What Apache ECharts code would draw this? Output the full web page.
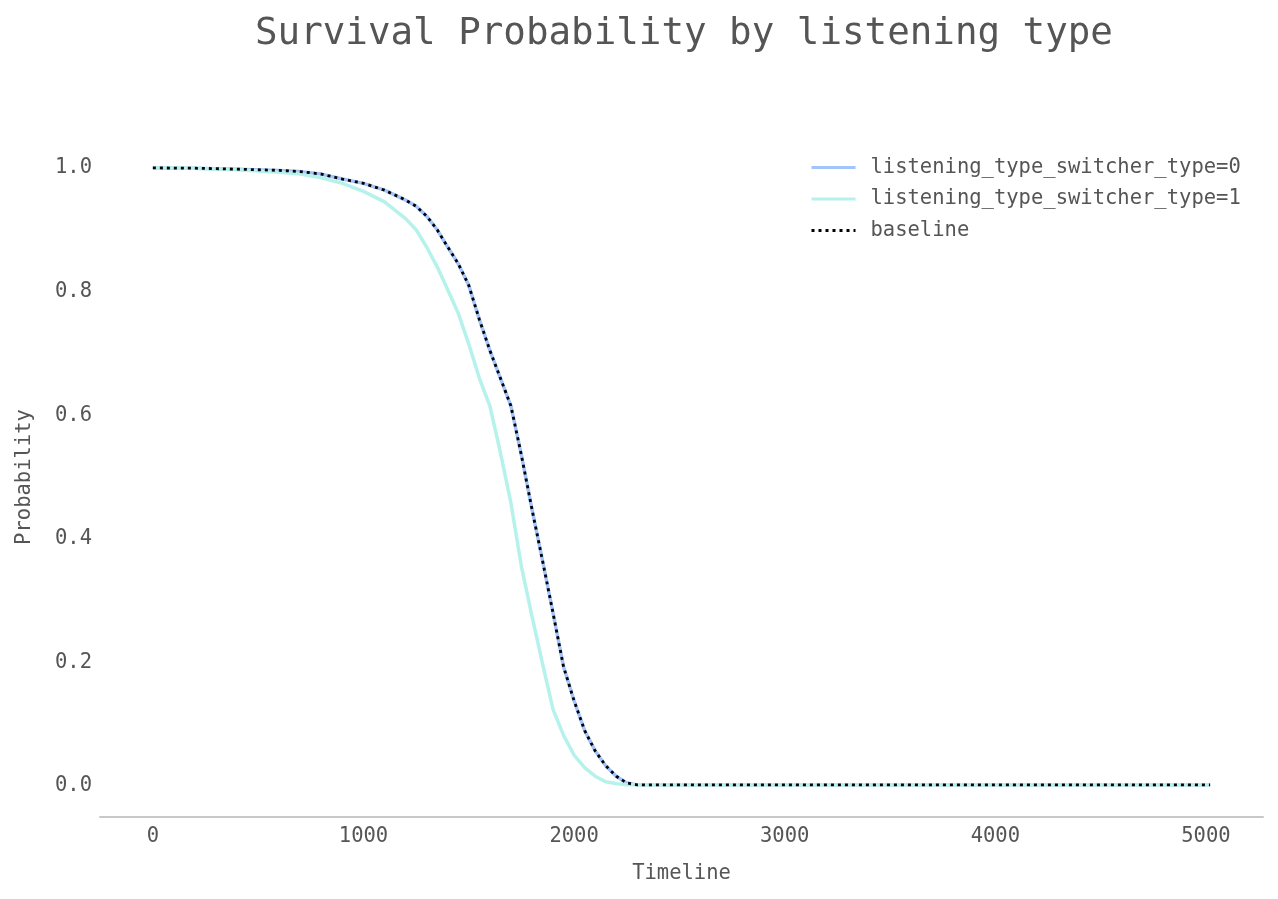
<!DOCTYPE html>
<html>
<head>
<meta charset="utf-8">
<script src="https://cdn.jsdelivr.net/npm/echarts@6/dist/echarts.min.js"></script>
<style>
  html, body { margin: 0; padding: 0; background: #fff; }
  #chart { width: 1278px; height: 899px; }
</style>
</head>
<body>
<div id="chart"></div>
<script>
const timeline = [0, 200, 400, 600, 700, 800, 900, 1000, 1100, 1200, 1250, 1300, 1350, 1400, 1450,
  1500, 1550, 1600, 1650, 1700, 1750, 1800, 1850, 1900, 1950, 2000, 2050, 2100, 2150, 2200, 2250,
  2300, 2400, 3000, 4000, 5020];

const baseline = [1.0, 0.9995, 0.998, 0.996, 0.994, 0.990, 0.982, 0.975, 0.964, 0.948, 0.938, 0.922, 0.900, 0.872, 0.845,
  0.810, 0.755, 0.705, 0.660, 0.615, 0.535, 0.448, 0.365, 0.280, 0.193, 0.138, 0.090, 0.057, 0.033, 0.016, 0.005,
  0.002, 0.002, 0.002, 0.002, 0.002];

const type0 = baseline.slice();

const type1 = [1.0, 0.9995, 0.997, 0.993, 0.990, 0.984, 0.975, 0.962, 0.945, 0.918, 0.900, 0.872, 0.840, 0.803, 0.765,
  0.715, 0.660, 0.615, 0.540, 0.458, 0.355, 0.275, 0.198, 0.124, 0.082, 0.050, 0.030, 0.016, 0.007, 0.004, 0.002,
  0.002, 0.002, 0.002, 0.002, 0.002];

const seriesNames = ["listening_type_switcher_type=0", "listening_type_switcher_type=1", "baseline"];

const pairs = (ys) => timeline.map((t, i) => [t, ys[i]]);
const font = "DejaVu Sans Mono";
const textColor = "#555555";

const chart = echarts.init(document.getElementById("chart"));
chart.setOption({
  backgroundColor: "#ffffff",
  animation: false,
  title: {
    text: "Survival Probability by listening type",
    left: 250,
    top: 10,
    textStyle: { fontFamily: font, fontSize: 37.5, fontWeight: "normal", color: textColor },
  },
  legend: {
    orient: "vertical",
    left: 805,
    top: 152,
    itemWidth: 44,
    itemHeight: 20,
    itemGap: 10.5,
    itemStyle: { opacity: 0 },
    lineStyle: { width: 3 },
    textStyle: { fontFamily: font, fontSize: 20.5, color: textColor, padding: [0, 0, 0, 10] },
    data: seriesNames,
  },
  grid: { left: 100, right: 15, top: 137, bottom: 82 },
  xAxis: {
    type: "value",
    min: -251,
    max: 5271,
    name: "Timeline",
    nameLocation: "middle",
    nameGap: 46,
    nameTextStyle: { fontFamily: font, fontSize: 20.5, color: textColor },
    axisLine: { show: true, onZero: false, lineStyle: { color: "#c8c8c8", width: 2 } },
    axisTick: { show: false },
    splitLine: { show: false },
    axisLabel: {
      fontFamily: font, fontSize: 20.5, color: textColor, margin: 9,
      showMinLabel: false, showMaxLabel: false,
      formatter: (v) => (v % 1000 === 0 ? String(v) : ""),
    },
  },
  yAxis: {
    type: "value",
    min: -0.05,
    max: 1.05,
    name: "Probability",
    nameLocation: "middle",
    nameGap: 65,
    nameTextStyle: { fontFamily: font, fontSize: 20.5, color: textColor },
    axisLine: { show: false },
    axisTick: { show: false },
    splitLine: { show: false },
    axisLabel: {
      fontFamily: font, fontSize: 20.5, color: textColor, margin: 8,
      showMinLabel: false, showMaxLabel: false,
      formatter: (v) => (Math.abs(v * 5 - Math.round(v * 5)) < 1e-6 ? v.toFixed(1) : ""),
    },
  },
  series: [
    {
      name: seriesNames[0], type: "line", data: pairs(type0), symbol: "none",
      lineStyle: { color: "#a1c4fd", width: 3.5 }, itemStyle: { color: "#a1c4fd" },
    },
    {
      name: seriesNames[1], type: "line", data: pairs(type1), symbol: "none",
      lineStyle: { color: "#b6f2ec", width: 3.5 }, itemStyle: { color: "#b6f2ec" },
    },
    {
      name: seriesNames[2], type: "line", data: pairs(baseline), symbol: "none",
      lineStyle: { color: "#000000", width: 2.8, type: [3, 4], cap: "butt" }, itemStyle: { color: "#000000" },
    },
  ],
});
</script>
</body>
</html>
